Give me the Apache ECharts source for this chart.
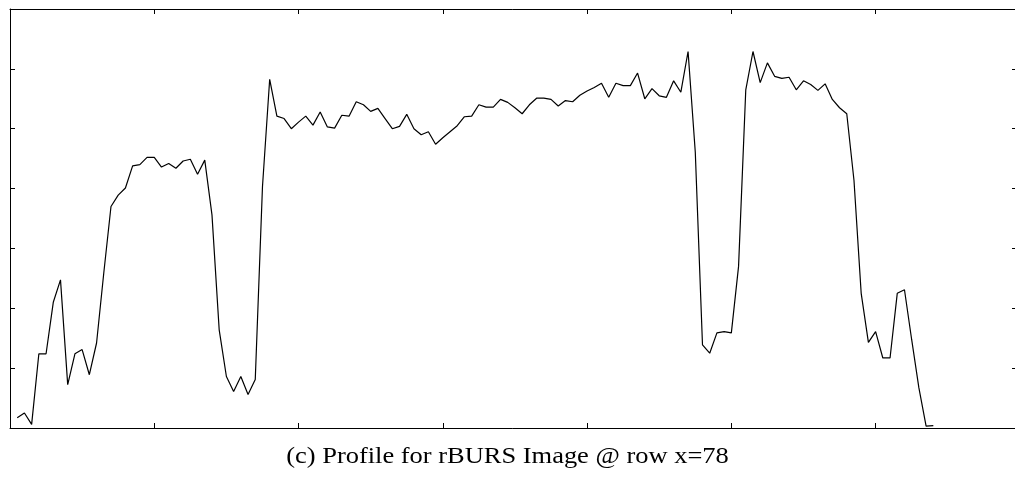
<!DOCTYPE html>
<html>
<head>
<meta charset="utf-8">
<script src="https://cdn.jsdelivr.net/npm/echarts@6/dist/echarts.min.js"></script>
<style>
  html, body { margin: 0; padding: 0; background: #fff; }
  #profile { width: 1015px; height: 480px; }
</style>
</head>
<body>
<div id="profile"></div>
<script>
// intensity profile along row x=78, one value per column (columns 1..128)
var profileValues = [
  1.7, 2.5, 0.6, 12.4, 12.4, 21.0, 24.75, 7.25, 12.4, 13.1,
  8.9, 14.2, 25.9, 37.0, 38.9, 40.1, 43.8, 44.0, 45.2, 45.2,
  43.6, 44.2, 43.4, 44.6, 44.9, 42.4, 44.75, 35.6, 16.4, 8.6,
  6.1, 8.6, 5.6, 8.1, 40.3, 58.25, 52.1, 51.7, 50.0, 51.1,
  52.1, 50.6, 52.8, 50.3, 50.1, 52.25, 52.1, 54.5, 54.0, 52.9,
  53.4, 51.7, 50.0, 50.4, 52.4, 50.0, 49.0, 49.5, 47.4, 48.5,
  49.5, 50.5, 52.0, 52.1, 54.0, 53.6, 53.6, 54.9, 54.4, 53.5,
  52.5, 54.0, 55.1, 55.1, 54.9, 53.8, 54.7, 54.5, 55.6, 56.3,
  56.9, 57.6, 55.25, 57.6, 57.2, 57.2, 59.3, 55.0, 56.7, 55.5,
  55.25, 58.0, 56.1, 62.9, 46.1, 13.9, 12.5, 15.9, 16.1, 15.9,
  27.0, 56.5, 62.9, 57.7, 61.0, 58.75, 58.4, 58.6, 56.5, 58.0,
  57.4, 56.4, 57.5, 54.9, 53.5, 52.5, 41.4, 22.5, 14.3, 16.1,
  11.7, 11.7, 22.5, 23.1, 14.75, 6.7, 0.3, 0.4
];
var firstColumn = 1;

// axis ranges (no tick labels are shown in the figure)
var xRange = [0, 139.6];
var xStep = 20;
var yRange = [0, 70];
var yStep = 10;

var caption = '(c) Profile for rBURS Image @ row x=78';

var points = profileValues.map(function (v, i) {
  return [firstColumn + i, v];
});

function boxAxis(pos, range, step) {
  return {
    type: 'value',
    position: pos,
    min: range[0],
    max: range[1],
    interval: step,
    axisLine: { show: true, onZero: false, lineStyle: { color: '#000', width: 1 } },
    axisTick: { show: true, inside: true, length: 5, lineStyle: { color: '#000', width: 1 } },
    axisLabel: { show: false },
    splitLine: { show: false }
  };
}

var chart = echarts.init(document.getElementById('profile'));
chart.setOption({
  animation: false,
  backgroundColor: '#fff',
  grid: {
    left: 10,
    right: -2,
    top: 9,
    bottom: 52,
    outerBoundsMode: 'none'
  },
  xAxis: [
    boxAxis('bottom', xRange, xStep),
    boxAxis('top', xRange, xStep)
  ],
  yAxis: [
    boxAxis('left', yRange, yStep),
    boxAxis('right', yRange, yStep)
  ],
  graphic: [
    {
      type: 'text',
      x: 507.5,
      y: 457,
      scaleX: 1.15,
      style: {
        text: caption,
        x: 0,
        y: 0,
        align: 'center',
        verticalAlign: 'middle',
        fontFamily: 'Liberation Serif',
        fontSize: 23,
        fill: '#000'
      }
    }
  ],
  series: [
    {
      type: 'line',
      xAxisIndex: 0,
      yAxisIndex: 0,
      data: points,
      showSymbol: false,
      lineStyle: { color: '#000', width: 1.2 }
    }
  ]
});
</script>
</body>
</html>
